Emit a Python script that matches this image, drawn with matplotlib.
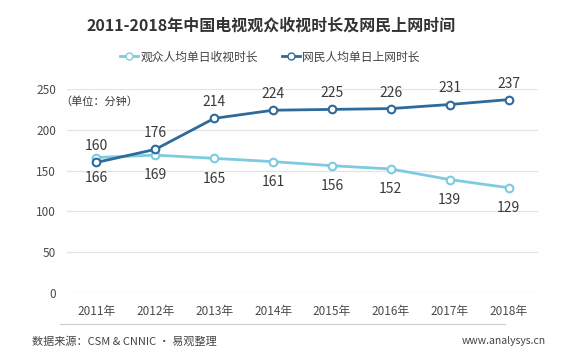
import matplotlib
matplotlib.use("Agg")
import matplotlib.pyplot as plt
from matplotlib.lines import Line2D

plt.rcParams['font.family'] = ['Noto Sans CJK SC', 'DejaVu Sans']

years = ['2011年', '2012年', '2013年', '2014年', '2015年', '2016年', '2017年', '2018年']
tv_minutes = [166, 169, 165, 161, 156, 152, 139, 129]
net_minutes = [160, 176, 214, 224, 225, 226, 231, 237]
series_names = ['观众人均单日收视时长', '网民人均单日上网时长']
yticks = [0, 50, 100, 150, 200, 250]

c_light = '#7ecbe0'
c_dark = '#2f6a9c'
c_text = '#3a3a3a'

fig = plt.figure(figsize=(5.64, 3.63), dpi=100)
ax = fig.add_axes([67/564, 1-293/363, 471/564, (293-89)/363])

x = list(range(len(years)))
ax.plot(x, tv_minutes, color=c_light, lw=2, marker='o', ms=5.5,
        mfc='white', mec=c_light, mew=1.5, zorder=3)
ax.plot(x, net_minutes, color=c_dark, lw=2, marker='o', ms=5.5,
        mfc='white', mec=c_dark, mew=1.5, zorder=4)

for xi, v in zip(x, net_minutes):
    ax.annotate(str(v), (xi, v), xytext=(0, 6.5), textcoords='offset points',
                ha='center', va='bottom', fontsize=10, color=c_text)
for xi, v in zip(x, tv_minutes):
    ax.annotate(str(v), (xi, v), xytext=(0, -9.5), textcoords='offset points',
                ha='center', va='top', fontsize=10, color=c_text)

ax.set_xlim(-0.5, len(years) - 0.5)
ax.set_ylim(0, 250)
ax.set_yticks(yticks)
ax.set_xticks(x)
ax.set_xticklabels(years)
ax.grid(axis='y', color='#e3e3e3', lw=0.9)
ax.set_axisbelow(True)
for s in ax.spines.values():
    s.set_visible(False)
ax.tick_params(length=0, labelsize=8.5, colors='#4a4a4a')
ax.tick_params(axis='x', pad=9)
ax.tick_params(axis='y', pad=8)

fig.text(60/564, 1-102/363, '（单位：分钟）', fontsize=8,
         color=c_text, ha='left', va='center')

fig.text(271/564, 1-26/363, '2011-2018年中国电视观众收视时长及网民上网时间',
         ha='center', va='center', fontsize=11.5, fontweight='heavy', color='#333333')

handles = [Line2D([], [], color=c_light, lw=2, marker='o', mfc='white', mec=c_light, ms=5),
           Line2D([], [], color=c_dark, lw=2, marker='o', mfc='white', mec=c_dark, ms=5)]
fig.legend(handles, series_names, loc='center', bbox_to_anchor=(270/564, 1-57/363),
           ncol=2, frameon=False, fontsize=8.5, handlelength=1.5, handletextpad=0.25,
           columnspacing=2.0, labelcolor='#444444')

fig.add_artist(Line2D([60/564, 505/564], [1-324/363, 1-324/363], color='#cccccc', lw=0.8))
fig.text(32/564, 1-341/363, '数据来源：CSM & CNNIC · 易观整理', fontsize=8,
         color='#444444', ha='left', va='center')
fig.text(546/564, 1-341/363, 'www.analysys.cn', fontsize=7.5,
         color='#444444', ha='right', va='center')

fig.savefig('out.png', dpi=100)
